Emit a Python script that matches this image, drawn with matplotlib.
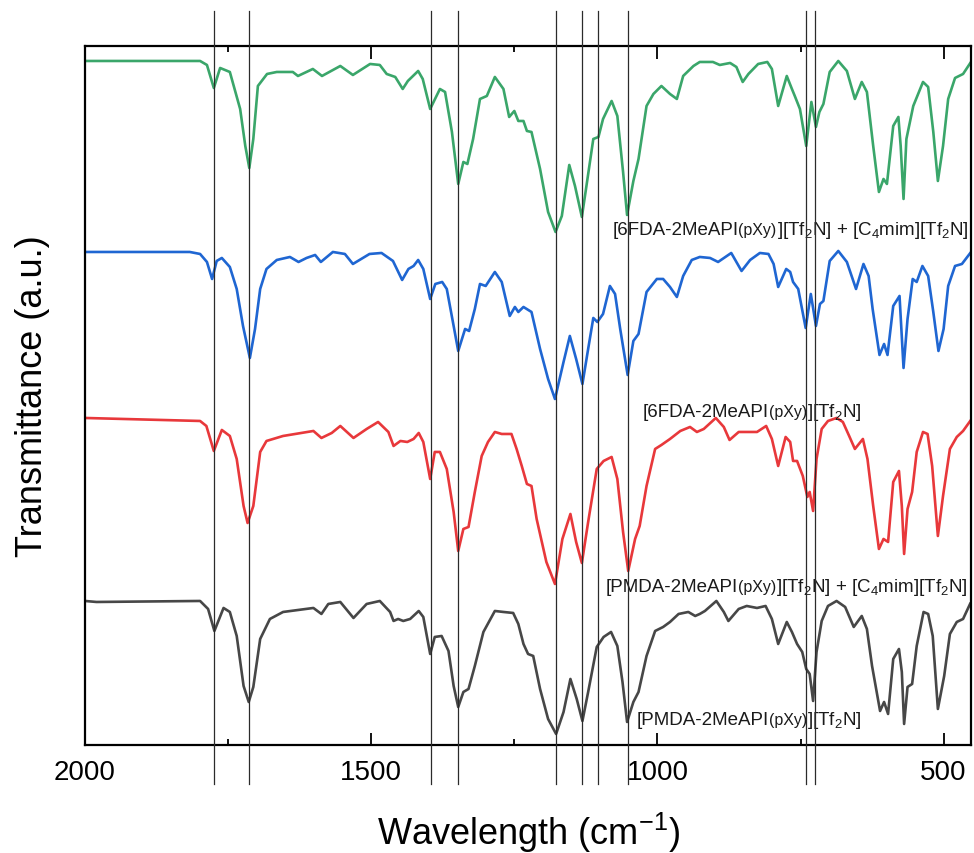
import matplotlib
matplotlib.use("Agg")
import matplotlib.pyplot as plt
from matplotlib.ticker import MultipleLocator

plt.rcParams['font.family'] = ['Liberation Sans', 'DejaVu Sans']
plt.rcParams['mathtext.fontset'] = 'custom'
plt.rcParams['mathtext.rm'] = 'Liberation Sans'
plt.rcParams['mathtext.it'] = 'Liberation Sans:italic'

# FTIR spectra, transmittance in arbitrary units (already stacked)
green_wn = [2000, 1799, 1787, 1775, 1764, 1747, 1729, 1720, 1713, 1706,
            1698, 1682, 1665, 1637, 1628, 1602, 1586, 1554, 1532, 1502,
            1485, 1473, 1458, 1445, 1436, 1418, 1410, 1397, 1380, 1371,
            1359, 1348, 1339, 1332, 1322, 1310, 1298, 1284, 1269, 1259,
            1250, 1243, 1234, 1228, 1220, 1205, 1191, 1178, 1167, 1154,
            1144, 1132, 1124, 1112, 1103, 1095, 1080, 1070, 1060, 1053,
            1042, 1033, 1019, 1007, 993, 978, 966, 955, 937, 926,
            903, 891, 873, 862, 851, 841, 824, 808, 800, 789,
            774, 765, 760, 751, 740, 731, 723, 717, 710, 699,
            684, 669, 655, 643, 634, 623, 613, 605, 599, 588,
            579, 575, 570, 565, 553, 536, 527, 518, 510, 501,
            492, 480, 466, 451]
green_t = [684, 684, 680, 657, 677, 673, 636, 599, 577, 606,
           659, 671, 673, 673, 669, 676, 669, 679, 670, 681,
           680, 671, 668, 656, 664, 674, 666, 636, 656, 653,
           613, 561, 583, 581, 606, 646, 649, 668, 656, 628,
           634, 624, 624, 614, 613, 576, 533, 513, 529, 580,
           559, 528, 559, 606, 608, 626, 644, 629, 573, 530,
           564, 586, 639, 651, 659, 651, 646, 669, 679, 683,
           683, 680, 682, 678, 663, 671, 681, 683, 676, 639,
           669, 656, 649, 636, 599, 643, 618, 633, 641, 673,
           684, 674, 646, 663, 653, 599, 553, 566, 561, 619,
           628, 599, 546, 606, 639, 663, 658, 613, 564, 599,
           646, 667, 671, 684]

blue_wn = [2000, 1817, 1799, 1787, 1778, 1770, 1761, 1747, 1735, 1724,
           1712, 1703, 1694, 1683, 1665, 1642, 1627, 1613, 1598, 1588,
           1567, 1546, 1532, 1503, 1482, 1462, 1446, 1435, 1426, 1418,
           1409, 1397, 1388, 1376, 1368, 1356, 1348, 1336, 1329, 1319,
           1310, 1300, 1284, 1272, 1258, 1249, 1243, 1234, 1220, 1205,
           1191, 1179, 1164, 1153, 1142, 1131, 1121, 1112, 1105, 1095,
           1083, 1074, 1065, 1052, 1042, 1033, 1019, 1001, 990, 978,
           966, 955, 940, 926, 908, 894, 871, 853, 838, 821,
           806, 797, 789, 775, 768, 763, 754, 741, 732, 723,
           716, 710, 699, 684, 669, 653, 640, 631, 624, 612,
           604, 598, 588, 577, 570, 563, 554, 547, 537, 527,
           518, 509, 500, 492, 480, 468, 452]
blue_t = [493, 493, 491, 483, 466, 484, 487, 478, 456, 419,
          387, 416, 456, 476, 485, 488, 483, 487, 490, 483,
          493, 491, 481, 491, 492, 484, 465, 476, 479, 485,
          476, 446, 461, 463, 456, 419, 394, 416, 414, 436,
          461, 459, 473, 463, 429, 438, 433, 438, 433, 396,
          366, 346, 383, 409, 386, 361, 396, 427, 423, 431,
          459, 451, 416, 370, 404, 411, 453, 466, 466, 458,
          448, 469, 485, 488, 487, 483, 492, 474, 485, 492,
          491, 481, 458, 476, 473, 463, 456, 417, 451, 419,
          441, 444, 484, 494, 483, 456, 481, 469, 436, 390,
          401, 390, 439, 449, 377, 426, 466, 463, 479, 469,
          433, 394, 416, 459, 479, 481, 493]

red_wn = [2000, 1799, 1788, 1775, 1761, 1747, 1735, 1723, 1716, 1706,
          1694, 1683, 1654, 1601, 1587, 1569, 1554, 1531, 1508, 1488,
          1470, 1461, 1449, 1437, 1426, 1417, 1409, 1397, 1389, 1380,
          1368, 1356, 1348, 1339, 1330, 1319, 1307, 1296, 1284, 1272,
          1255, 1246, 1237, 1228, 1220, 1211, 1194, 1179, 1166, 1152,
          1142, 1132, 1121, 1106, 1094, 1080, 1070, 1060, 1051, 1039,
          1031, 1019, 1004, 993, 978, 960, 943, 931, 919, 898,
          884, 874, 858, 826, 810, 800, 789, 776, 768, 763,
          756, 746, 738, 734, 728, 722, 713, 702, 687, 676,
          665, 655, 641, 633, 623, 613, 605, 597, 588, 578,
          573, 569, 563, 555, 547, 536, 528, 520, 510, 501,
          489, 477, 466, 451]
red_t = [327, 324, 319, 294, 315, 309, 286, 239, 222, 239,
         293, 304, 309, 314, 307, 312, 319, 307, 316, 323,
         313, 299, 304, 303, 306, 312, 303, 266, 293, 293,
         276, 233, 194, 216, 218, 253, 289, 303, 313, 311,
         311, 296, 279, 261, 259, 226, 183, 161, 206, 231,
         203, 182, 223, 276, 284, 288, 266, 213, 174, 206,
         219, 259, 296, 300, 306, 314, 318, 313, 316, 327,
         318, 305, 313, 313, 319, 306, 279, 308, 303, 284,
         284, 269, 248, 253, 234, 286, 316, 324, 327, 323,
         309, 296, 306, 286, 239, 196, 206, 203, 263, 274,
         239, 191, 236, 253, 293, 313, 311, 279, 209, 249,
         296, 308, 314, 326]

gray_wn = [2000, 1980, 1799, 1785, 1774, 1758, 1747, 1735, 1723, 1714,
           1706, 1694, 1677, 1654, 1601, 1587, 1575, 1554, 1531, 1508,
           1485, 1467, 1461, 1453, 1444, 1432, 1417, 1409, 1397, 1389,
           1377, 1365, 1356, 1348, 1339, 1330, 1319, 1304, 1284, 1269,
           1252, 1243, 1234, 1226, 1217, 1205, 1191, 1177, 1164, 1152,
           1141, 1131, 1121, 1106, 1094, 1081, 1070, 1061, 1053, 1042,
           1033, 1019, 1004, 990, 978, 963, 946, 934, 926, 917,
           897, 884, 876, 858, 844, 826, 811, 800, 789, 774,
           765, 756, 747, 740, 734, 728, 722, 713, 702, 687,
           672, 657, 643, 634, 625, 611, 604, 597, 588, 578,
           573, 569, 563, 555, 547, 535, 527, 519, 510, 499,
           489, 477, 466, 453]
gray_t = [144, 143, 144, 136, 114, 137, 133, 109, 59, 43,
          58, 106, 126, 133, 137, 131, 141, 143, 127, 141,
          144, 133, 124, 126, 124, 126, 134, 128, 91, 108,
          109, 94, 59, 38, 53, 56, 79, 113, 134, 133,
          132, 121, 101, 91, 89, 56, 26, 11, 33, 66,
          46, 24, 53, 98, 108, 113, 99, 63, 23, 43,
          53, 89, 114, 118, 123, 131, 133, 129, 131, 134,
          144, 133, 124, 136, 139, 137, 139, 126, 101, 123,
          113, 101, 93, 76, 71, 44, 93, 124, 139, 144,
          138, 118, 129, 116, 79, 34, 43, 31, 86, 96,
          73, 21, 58, 61, 99, 133, 131, 109, 36, 69,
          111, 123, 126, 142]

# marked band positions (cm-1)
bands = [1775, 1713, 1396, 1348, 1178, 1131, 1104, 1052, 740, 724]

# sample names, split so the (pXy) tag can be set smaller
il_part = r'][Tf$_2$N] + [C$_4$mim][Tf$_2$N]'
neat_part = r'][Tf$_2$N]'
label_parts = [['[6FDA-2MeAPI', '(pXy)', il_part],
               ['[6FDA-2MeAPI', '(pXy)', neat_part],
               ['[PMDA-2MeAPI', '(pXy)', il_part],
               ['[PMDA-2MeAPI', '(pXy)', neat_part]]
label_x = [1079, 1025, 1091, 1036]
label_y = [511, 329, 154, 21]

fig = plt.figure(figsize=(9.74, 8.54), dpi=100)
ax = fig.add_axes([0.0873, 0.1265, 0.9097, 0.8185])

line_kw = dict(lw=1.9, solid_joinstyle='round', solid_capstyle='round')
ax.plot(green_wn, green_t, color='#3aa66a', **line_kw)
ax.plot(blue_wn, blue_t, color='#1f66d2', **line_kw)
ax.plot(red_wn, red_t, color='#e8383b', **line_kw)
ax.plot(gray_wn, gray_t, color='#474747', **line_kw)

for b in bands:
    ax.axvline(b, ymin=-0.056, ymax=1.05, color='#2b2b2b', lw=0.9,
               clip_on=False, zorder=5)

renderer = fig.canvas.get_renderer()
for parts, x, y in zip(label_parts, label_x, label_y):
    off = 0
    for i, part in enumerate(parts):
        size = 11.5 if i == 1 else 13.5
        t = ax.annotate(part, xy=(x, y), xytext=(off, 0),
                        textcoords='offset pixels', fontsize=size,
                        ha='left', va='baseline', color='#1a1a1a')
        off += t.get_window_extent(renderer).width

ax.set_xlim(2000, 452)
ax.set_ylim(0, 699)
ax.xaxis.set_major_locator(MultipleLocator(500))
ax.xaxis.set_minor_locator(MultipleLocator(250))
ax.set_yticks([])
ax.tick_params(axis='x', which='both', direction='in', top=True,
               labelsize=20, pad=10, width=1.3)
ax.tick_params(axis='x', which='major', length=9)
ax.tick_params(axis='x', which='minor', length=4.5)
for s in ax.spines.values():
    s.set_linewidth(1.6)

ax.set_xlabel(r'Wavelength (cm$^{-1}$)', fontsize=26, labelpad=18)
ax.set_ylabel('Transmittance (a.u.)', fontsize=26, labelpad=25)

fig.savefig('out.png', dpi=100)
